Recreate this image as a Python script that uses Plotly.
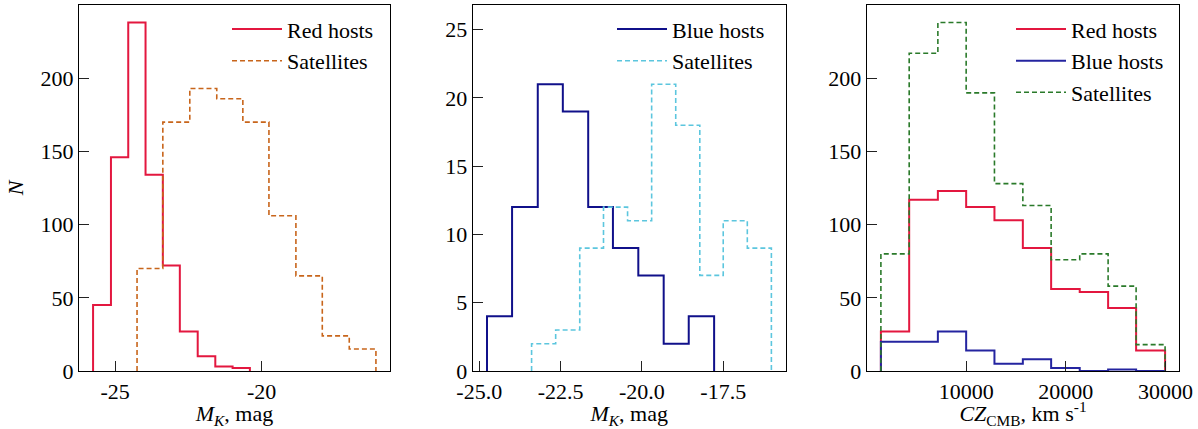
import plotly.graph_objects as go

# ---------------- data ----------------
# Panel 1: red hosts and their satellites, absolute K magnitude
red_edges_mk = [-25.75, -25.14, -24.55, -23.96, -23.37, -22.79, -22.18, -21.58, -20.99, -20.40]
red_counts_mk = [45, 146, 238, 134, 72, 27, 10, 3, 2]
red_sat_edges_mk = [-24.25, -23.37, -22.45, -21.53, -20.64, -19.75, -18.83, -17.93, -17.01, -16.10]
red_sat_counts_mk = [70, 170, 193, 186, 170, 106, 65, 24, 15]

# Panel 2: blue hosts and their satellites
blue_edges_mk = [-24.76, -23.99, -23.20, -22.43, -21.65, -20.89, -20.11, -19.33, -18.56, -17.78]
blue_counts_mk = [4, 12, 21, 19, 12, 9, 7, 2, 4]
blue_sat_edges_mk = [-23.39, -22.65, -21.91, -21.18, -20.44, -19.70, -18.96, -18.22, -17.50, -16.76, -16.02]
blue_sat_counts_mk = [2, 3, 9, 12, 11, 21, 18, 7, 11, 9]

# Panel 3: CMB velocity
cz_edges = [1440, 4280, 7160, 10000, 12840, 15690, 18530, 21400, 24250, 27060, 29970]
cz_red_counts = [27, 117, 123, 112, 103, 84, 56, 54, 43, 14]
cz_blue_counts = [20, 20, 27, 14, 5, 8, 2, 0, 1, 0]
cz_sat_counts = [80, 217, 238, 190, 128, 113, 76, 80, 58, 18]

mk_ticks_1 = [-25, -20]
mk_ticklabels_1 = ["-25", "-20"]
mk_ticks_2 = [-25.0, -22.5, -20.0, -17.5]
mk_ticklabels_2 = ["-25.0", "-22.5", "-20.0", "-17.5"]
cz_ticks = [10000, 20000, 30000]
cz_ticklabels = ["10000", "20000", "30000"]
n_ticks_1 = [0, 50, 100, 150, 200]
n_ticks_2 = [0, 5, 10, 15, 20, 25]

RED = "#e3173f"
ORANGE = "#c8651b"
NAVY = "#10108a"
CYAN = "#5cc6de"
BLUE3 = "#2424a0"
GREEN = "#2a7a2a"
FONT = "'Liberation Serif', 'Times New Roman', Times, 'DejaVu Serif', serif"
DASH = "5px,3px"


def step_xy(edges, counts):
    xs = [edges[0]] + list(edges[:-1]) + [edges[-1], edges[-1]]
    ys = [0] + list(counts) + [counts[-1], 0]
    return xs, ys


fig = go.Figure()


def add_hist(edges, counts, name, color, dash, width, xa, ya, legend):
    xs, ys = step_xy(edges, counts)
    fig.add_trace(go.Scatter(
        x=xs, y=ys, mode="lines", line_shape="hv", name=name,
        line=dict(color=color, dash=dash, width=width),
        xaxis=xa, yaxis=ya, legend=legend, hoverinfo="skip"))


add_hist(red_edges_mk, red_counts_mk, "Red hosts", RED, "solid", 2, "x", "y", "legend")
add_hist(red_sat_edges_mk, red_sat_counts_mk, "Satellites", ORANGE, DASH, 1.6, "x", "y", "legend")
add_hist(blue_edges_mk, blue_counts_mk, "Blue hosts", NAVY, "solid", 2, "x2", "y2", "legend2")
add_hist(blue_sat_edges_mk, blue_sat_counts_mk, "Satellites", CYAN, DASH, 1.6, "x2", "y2", "legend2")
add_hist(cz_edges, cz_red_counts, "Red hosts", RED, "solid", 2, "x3", "y3", "legend3")
add_hist(cz_edges, cz_blue_counts, "Blue hosts", BLUE3, "solid", 2, "x3", "y3", "legend3")
add_hist(cz_edges, cz_sat_counts, "Satellites", GREEN, DASH, 1.6, "x3", "y3", "legend3")

W, H = 1198, 429
axis_common = dict(showline=True, linecolor="black", linewidth=1.2, mirror=True,
                   ticks="inside", ticklen=10, tickwidth=1.2, tickcolor="#222",
                   showgrid=False, zeroline=False, automargin=False,
                   tickfont=dict(family=FONT, size=22, color="black"))

dom1 = [79 / W, 390 / W]
dom2 = [472.7 / W, 785.7 / W]
dom3 = [866.7 / W, 1179.3 / W]

xtitle_mk = "<i>M</i><sub><i>K</i></sub>, mag"
xtitle_cz = "<i>CZ</i><sub>CMB</sub>, km s<sup>-1</sup>"
tfont = dict(family=FONT, size=22, color="black")

fig.update_layout(
    width=W, height=H,
    margin=dict(l=0, r=0, t=5, b=58),
    paper_bgcolor="white", plot_bgcolor="white",
    font=dict(family=FONT, size=22, color="black"),
    xaxis=dict(domain=dom1, range=[-26.23, -15.62], tickvals=mk_ticks_1, ticktext=mk_ticklabels_1,
               title=dict(text=xtitle_mk, standoff=6, font=tfont), **axis_common),
    yaxis=dict(domain=[0, 1], range=[0, 250], tickvals=n_ticks_1,
               title=dict(text="<i>N</i>", standoff=10, font=tfont), **axis_common),
    xaxis2=dict(domain=dom2, range=[-25.2, -15.58], tickvals=mk_ticks_2, ticktext=mk_ticklabels_2, anchor="y2",
                title=dict(text=xtitle_mk, standoff=6, font=tfont), **axis_common),
    yaxis2=dict(domain=[0, 1], range=[0, 26.8], tickvals=n_ticks_2, anchor="x2", **axis_common),
    xaxis3=dict(domain=dom3, range=[16, 31396], tickvals=cz_ticks, ticktext=cz_ticklabels, anchor="y3",
                title=dict(text=xtitle_cz, standoff=6, font=tfont), **axis_common),
    yaxis3=dict(domain=[0, 1], range=[0, 250], tickvals=n_ticks_1, anchor="x3", **axis_common),
)

leg_common = dict(bgcolor="rgba(0,0,0,0)", borderwidth=0, itemwidth=50,
                  font=dict(family=FONT, size=22, color="black"),
                  xanchor="left", yanchor="top", tracegroupgap=0)
fig.update_layout(
    legend=dict(x=227 / W, y=0.991, **leg_common),
    legend2=dict(x=612 / W, y=0.991, **leg_common),
    legend3=dict(x=1011 / W, y=0.991, **leg_common),
)

fig.write_html("out.html")
